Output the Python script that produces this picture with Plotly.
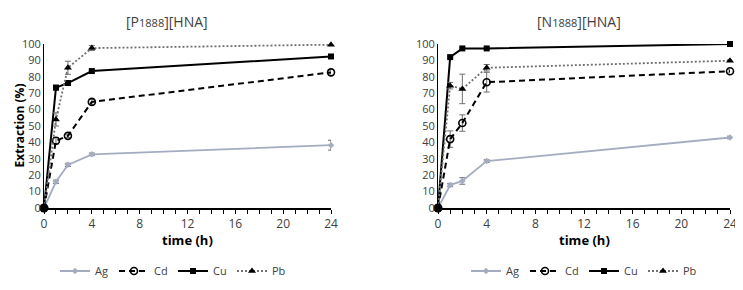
import plotly.graph_objects as go

time_h = [0, 1, 2, 4, 24]

# [P1888][HNA]
p_ag = [0, 16, 26.3, 32.7, 38.3]
p_ag_err = [0, 1, 1, 0.8, 3]
p_cd = [0, 41, 44, 64.7, 82.7]
p_cd_err = [0, 2, 1, 1.5, 1]
p_cu = [0, 73.4, 76.2, 83.5, 92.4]
p_cu_err = [0, 1.5, 1, 0.8, 0.8]
p_pb = [0, 54, 85.5, 97.5, 99.6]
p_pb_err = [0, 4, 4, 1.5, 0.5]

# [N1888][HNA]
n_ag = [0, 14, 16.5, 28.6, 43]
n_ag_err = [0, 1, 2, 0.8, 0.8]
n_cd = [0, 42, 51.8, 76.7, 83.4]
n_cd_err = [0, 5, 5, 6, 1]
n_cu = [0, 92, 97.3, 97.3, 100]
n_cu_err = [0, 0.5, 0.5, 0.5, 0.5]
n_pb = [0, 74.6, 72.6, 85.5, 89.8]
n_pb_err = [0, 2, 9, 2, 0.5]

titles = ["[P<span style='font-size:11px'>1888</span>][HNA]",
          "[N<span style='font-size:11px'>1888</span>][HNA]"]
metals = ["Ag", "Cd", "Cu", "Pb"]

AG_COL = "#a4adc0"
ERR_COL = "#6f6f6f"
FONT = "Open Sans"

# page body has an 8px margin: figure is drawn at screen offset (8, 8)
W, H, OFF = 735, 282, 8
def px(x):
    return (x - OFF) / W
def py(y):
    return 1 - (y - OFF) / H

styles = {
    "Ag": dict(line=dict(color=AG_COL, width=1.8, dash="solid"),
               marker=dict(symbol="diamond", size=5, color=AG_COL)),
    "Cd": dict(line=dict(color="black", width=2, dash="6px,4px"),
               marker=dict(symbol="circle-open", size=7, color="black", line=dict(width=1.6))),
    "Cu": dict(line=dict(color="black", width=2, dash="solid"),
               marker=dict(symbol="square", size=6, color="black")),
    "Pb": dict(line=dict(color="#707070", width=1.8, dash="2px,2px"),
               marker=dict(symbol="triangle-up", size=7, color="black")),
}

fig = go.Figure()
panels = [
    ([p_ag, p_cd, p_cu, p_pb], [p_ag_err, p_cd_err, p_cu_err, p_pb_err], "x", "y", "legend"),
    ([n_ag, n_cd, n_cu, n_pb], [n_ag_err, n_cd_err, n_cu_err, n_pb_err], "x2", "y2", "legend2"),
]
for vals, errs, xa, ya, lg in panels:
    for m, v, e in zip(metals, vals, errs):
        fig.add_trace(go.Scatter(
            x=time_h, y=v, name=m, mode="lines+markers", xaxis=xa, yaxis=ya, legend=lg,
            error_y=dict(type="data", array=e, visible=True, color=ERR_COL, thickness=1, width=3),
            cliponaxis=False, **styles[m]))
    # origin dot
    fig.add_trace(go.Scatter(x=[0], y=[0], mode="markers", xaxis=xa, yaxis=ya, showlegend=False,
                             marker=dict(color="black", size=9), cliponaxis=False, hoverinfo="skip"))

tickvals = list(range(0, 25))
ticktext = [str(t) if t % 4 == 0 else "" for t in tickvals]

xcommon = dict(range=[0, 24], tickvals=tickvals, ticktext=ticktext, ticks="outside", ticklen=4,
               tickcolor="black", tickwidth=1, showline=True, linecolor="black", linewidth=2,
               showgrid=False, zeroline=False, automargin=False,
               tickfont=dict(size=12, color="#404040", family=FONT))
ycommon = dict(range=[0, 100], dtick=10, showline=True, linecolor="black", linewidth=1,
               showgrid=False, zeroline=False, ticks="", automargin=False,
               tickfont=dict(size=11, color="#404040", family=FONT))

legend_common = dict(orientation="h", xanchor="center", yanchor="middle",
                     font=dict(size=11, color="#404040", family=FONT), itemwidth=30,
                     entrywidth=14, entrywidthmode="pixels", bgcolor="rgba(0,0,0,0)")

yd = [py(208), py(44)]
fig.update_layout(
    width=W, height=H, margin=dict(l=0, r=0, t=0, b=0, autoexpand=False),
    paper_bgcolor="white", plot_bgcolor="white",
    font=dict(family=FONT, color="#404040"),
    xaxis=dict(domain=[px(44), px(331)], anchor="y", **xcommon),
    yaxis=dict(domain=yd, anchor="x", **ycommon),
    xaxis2=dict(domain=[px(438), px(730)], anchor="y2", **xcommon),
    yaxis2=dict(domain=yd, anchor="x2", **ycommon),
    legend=dict(x=px(173), y=py(271), **legend_common),
    legend2=dict(x=px(584), y=py(271), **legend_common),
    showlegend=True,
)

anns = [
    dict(text=titles[0], x=px(167), y=py(22)),
    dict(text=titles[1], x=px(579), y=py(22)),
    dict(text="<b>time (h)</b>", x=px(187), y=py(240)),
    dict(text="<b>time (h)</b>", x=px(584), y=py(240)),
]
for a in anns:
    is_title = "HNA" in a["text"]
    fig.add_annotation(xref="paper", yref="paper", showarrow=False, xanchor="center", yanchor="middle",
                       font=dict(size=14 if is_title else 13, color="#404040" if is_title else "black",
                                 family=FONT), **a)
fig.add_annotation(xref="paper", yref="paper", showarrow=False, x=0, y=py(126),
                   xanchor="left", yanchor="middle", textangle=-90, text="<b>Extraction (%)</b>",
                   font=dict(size=12, color="black", family=FONT))

fig.write_html("out.html")
